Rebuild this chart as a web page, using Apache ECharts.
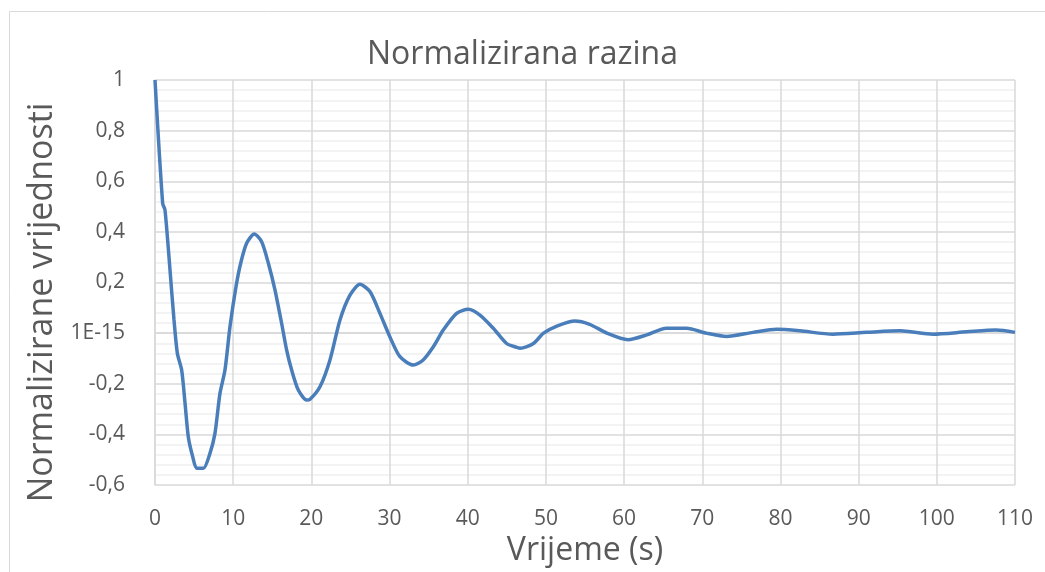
<!DOCTYPE html>
<html>
<head>
<meta charset="utf-8">
<script src="https://cdn.jsdelivr.net/npm/echarts@6/dist/echarts.min.js"></script>
<style>
  html, body { margin: 0; padding: 0; background: #fff; }
  #main { width: 1045px; height: 572px; }
</style>
</head>
<body>
<div id="main"></div>
<script>
// vrijeme (s)
const times = [
  0, 0.98, 1.28, 1.92, 2.43, 2.86, 3.41, 3.84, 4.26, 4.82, 5.33, 6.18, 7.03, 7.67, 8.31, 8.95,
  9.59, 10.36, 10.96, 11.72, 12.7, 13.64, 14.5, 15.35, 16.2, 16.84, 17.48, 18.33, 19.4, 19.8,
  21.1, 22.38, 23.66, 24.94, 26.21, 27.49, 28.77, 30.05, 31.33, 33.03, 34.3, 35.6, 36.87,
  38.58, 40.07, 41.56, 43.27, 44.97, 46.25, 46.7, 48.4, 49.7, 51.4, 53.7, 55.6, 57.8, 60.5,
  62.9, 65.4, 68.0, 70.5, 73.1, 76.5, 79.5, 82.5, 86.7, 91.0, 95.3, 99.5, 103.8, 107.6, 110
];
// normalizirane vrijednosti
const values = [
  1.0, 0.513, 0.486, 0.249, 0.052, -0.08, -0.146, -0.276, -0.41, -0.488, -0.534, -0.534, -0.475, -0.396, -0.238, -0.146,
  0.025, 0.183, 0.276, 0.355, 0.392, 0.361, 0.276, 0.17, 0.038, -0.067, -0.146, -0.225, -0.264, -0.262,
  -0.212, -0.106, 0.052, 0.15, 0.193, 0.164, 0.078, -0.015, -0.093, -0.126, -0.106, -0.054, 0.012,
  0.078, 0.094, 0.071, 0.019, -0.041, -0.056, -0.06, -0.041, 0.0, 0.028, 0.048, 0.035, 0.0, -0.026,
  -0.007, 0.019, 0.019, 0.0, -0.013, 0.003, 0.015, 0.009, -0.004, 0.003, 0.009, -0.004, 0.005, 0.012, 0.003
];
const yTickLabels = ['-0,6', '-0,4', '-0,2', '1E-15', '0,2', '0,4', '0,6', '0,8', '1'];
const xTickLabels = ['0', '10', '20', '30', '40', '50', '60', '70', '80', '90', '100', '110'];

const FONT = 'Open Sans';
const TEXT = '#595959';

function loadChart() {
  var chartDom = document.getElementById('main');
  var myChart = echarts.init(chartDom);
  var option;

  option = {
    animation: false,
    textStyle: { fontFamily: FONT },
    title: {
      text: 'Normalizirana razina',
      left: 'center',
      top: 34,
      textStyle: { fontFamily: FONT, fontSize: 32, fontWeight: 'normal', color: TEXT }
    },
    graphic: [{
      type: 'rect',
      shape: { x: 9.5, y: 11.5, width: 1040, height: 570 },
      style: { fill: 'none', stroke: '#d9d9d9', lineWidth: 1 },
      silent: true
    }],
    grid: { left: 155, right: 30, top: 80, bottom: 87 },
    xAxis: {
      type: 'value',
      min: 0,
      max: 110,
      interval: 10,
      name: 'Vrijeme (s)',
      nameLocation: 'middle',
      nameGap: 50,
      nameTextStyle: { fontFamily: FONT, fontSize: 32, color: TEXT },
      axisLine: { show: true, lineStyle: { color: '#d9d9d9', width: 1.5 } },
      axisTick: { show: false },
      axisLabel: {
        fontFamily: FONT, fontSize: 21, color: TEXT, margin: 24,
        formatter: (v) => xTickLabels[Math.round(v / 10)]
      },
      splitLine: { show: true, lineStyle: { color: '#d9d9d9', width: 1.5 } }
    },
    yAxis: {
      type: 'value',
      min: -0.6,
      max: 1,
      interval: 0.2,
      name: 'Normalizirane vrijednosti',
      nameLocation: 'middle',
      nameRotate: 90,
      nameGap: 96,
      nameTextStyle: { fontFamily: FONT, fontSize: 34, color: TEXT, padding: [0, 40, 0, 0] },
      axisLine: { show: true, lineStyle: { color: '#d9d9d9', width: 1.5 } },
      axisTick: { show: false },
      axisLabel: {
        fontFamily: FONT, fontSize: 21, color: TEXT, margin: 30,
        formatter: (v) => yTickLabels[Math.round((v + 0.6) / 0.2)]
      },
      splitLine: { show: true, lineStyle: { color: '#d9d9d9', width: 1.5 } },
      minorTick: { show: false, splitNumber: 5 },
      minorSplitLine: { show: true, lineStyle: { color: '#f0f0f0', width: 1.5 } }
    },
    series: [{
      type: 'line',
      data: times.map((t, i) => [t, values[i]]),
      showSymbol: false,
      smooth: 0.25,
      lineStyle: { color: '#4a7ebb', width: 3.5 },
      itemStyle: { color: '#4a7ebb' }
    }]
  };

  myChart.setOption(option);
}

document.addEventListener('DOMContentLoaded', () => {
  loadChart();
})
</script>
</body>
</html>
